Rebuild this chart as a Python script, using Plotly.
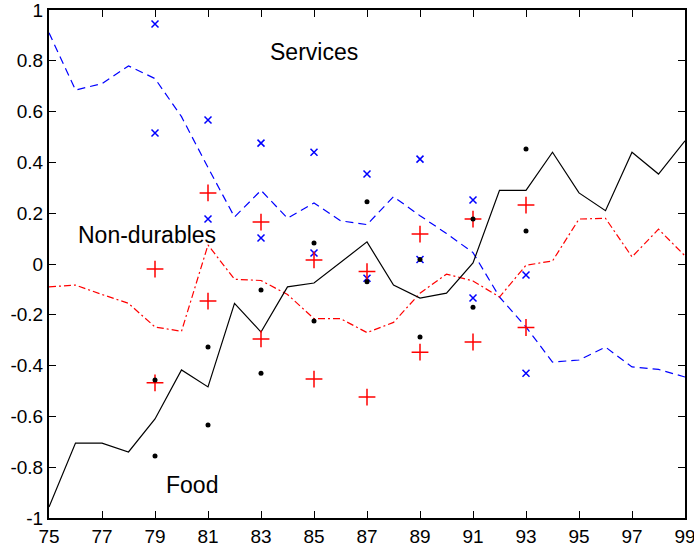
import plotly.graph_objects as go

years = list(range(75, 100))
services = [0.91, 0.685, 0.71, 0.78, 0.73, 0.58, 0.38, 0.185, 0.29, 0.18, 0.24, 0.17, 0.155,
            0.265, 0.19, 0.12, 0.045, -0.13, -0.248, -0.386, -0.378, -0.327, -0.405, -0.415, -0.445]
nondurables = [-0.09, -0.083, -0.12, -0.155, -0.248, -0.265, 0.075, -0.06, -0.065, -0.12, -0.215,
               -0.215, -0.27, -0.23, -0.115, -0.04, -0.067, -0.13, -0.005, 0.012, 0.177, 0.18,
               0.028, 0.137, 0.032]
food = [-0.957, -0.705, -0.705, -0.74, -0.61, -0.417, -0.484, -0.155, -0.268, -0.09, -0.075,
        0.005, 0.087, -0.083, -0.134, -0.115, 0.004, 0.29, 0.29, 0.44, 0.28, 0.21, 0.44, 0.354, 0.485]

band_years = [79, 81, 83, 85, 87, 89, 91, 93]
serv_hi = [0.945, 0.567, 0.476, 0.44, 0.354, 0.413, 0.252, -0.043]
serv_lo = [0.516, 0.177, 0.102, 0.043, -0.056, 0.018, -0.134, -0.43]
nd_hi = [-0.02, 0.28, 0.165, 0.016, -0.03, 0.118, 0.177, 0.232]
nd_lo = [-0.468, -0.146, -0.295, -0.453, -0.524, -0.347, -0.307, -0.25]
food_hi = [-0.457, -0.327, -0.102, 0.083, 0.245, 0.018, 0.177, 0.453]
food_lo = [-0.756, -0.634, -0.43, -0.224, -0.07, -0.287, -0.17, 0.13]

x_ticks = list(range(75, 100, 2))
y_ticks = [1, 0.8, 0.6, 0.4, 0.2, 0, -0.2, -0.4, -0.6, -0.8, -1]
y_labels = ["1", "0.8", "0.6", "0.4", "0.2", "0", "-0.2", "-0.4", "-0.6", "-0.8", "-1"]

fig = go.Figure()
fig.add_trace(go.Scatter(x=years, y=services, mode="lines",
                         line=dict(color="#0000ff", width=1.2, dash="8px,5px")))
fig.add_trace(go.Scatter(x=years, y=nondurables, mode="lines",
                         line=dict(color="#ff0000", width=1.2, dash="7px,3px,2px,3px")))
fig.add_trace(go.Scatter(x=years, y=food, mode="lines",
                         line=dict(color="black", width=1.2)))

for hi, lo, sym, col, size in [
    (serv_hi, serv_lo, "x-thin", "#0000ff", 7),
    (nd_hi, nd_lo, "cross-thin", "#ff0000", 12),
]:
    for vals in (hi, lo):
        fig.add_trace(go.Scatter(x=band_years, y=vals, mode="markers",
                                 marker=dict(symbol=sym, size=size, color=col,
                                             line=dict(color=col, width=1.5))))
for vals in (food_hi, food_lo):
    fig.add_trace(go.Scatter(x=band_years, y=vals, mode="markers",
                             marker=dict(symbol="circle", size=5, color="black")))

fig.add_annotation(x=85.0, y=0.835, text="Services", showarrow=False, font=dict(size=23))
fig.add_annotation(x=78.7, y=0.115, text="Non-durables", showarrow=False, font=dict(size=23))
fig.add_annotation(x=80.4, y=-0.87, text="Food", showarrow=False, font=dict(size=23))

axis_common = dict(showline=True, mirror="ticks", linecolor="black", linewidth=2,
                   ticks="inside", ticklen=7, tickcolor="black", tickwidth=1,
                   showgrid=False, zeroline=False, automargin=False,
                   ticklabeloverflow="allow", tickfont=dict(size=19))
fig.update_xaxes(range=[75, 99], tickvals=x_ticks, ticktext=[str(t) for t in x_ticks],
                 ticklabelstandoff=0, **axis_common)
fig.update_yaxes(range=[-1, 1], tickvals=y_ticks, ticktext=y_labels,
                 ticklabelstandoff=0, **axis_common)

fig.update_layout(width=694, height=548, showlegend=False,
                  font=dict(family="Liberation Sans", color="black"),
                  margin=dict(l=49, r=9, t=10, b=30, autoexpand=False),
                  paper_bgcolor="white", plot_bgcolor="white")
fig.write_html("out.html", config={"displayModeBar": False},
               post_script="document.body.style.margin='0px';")
